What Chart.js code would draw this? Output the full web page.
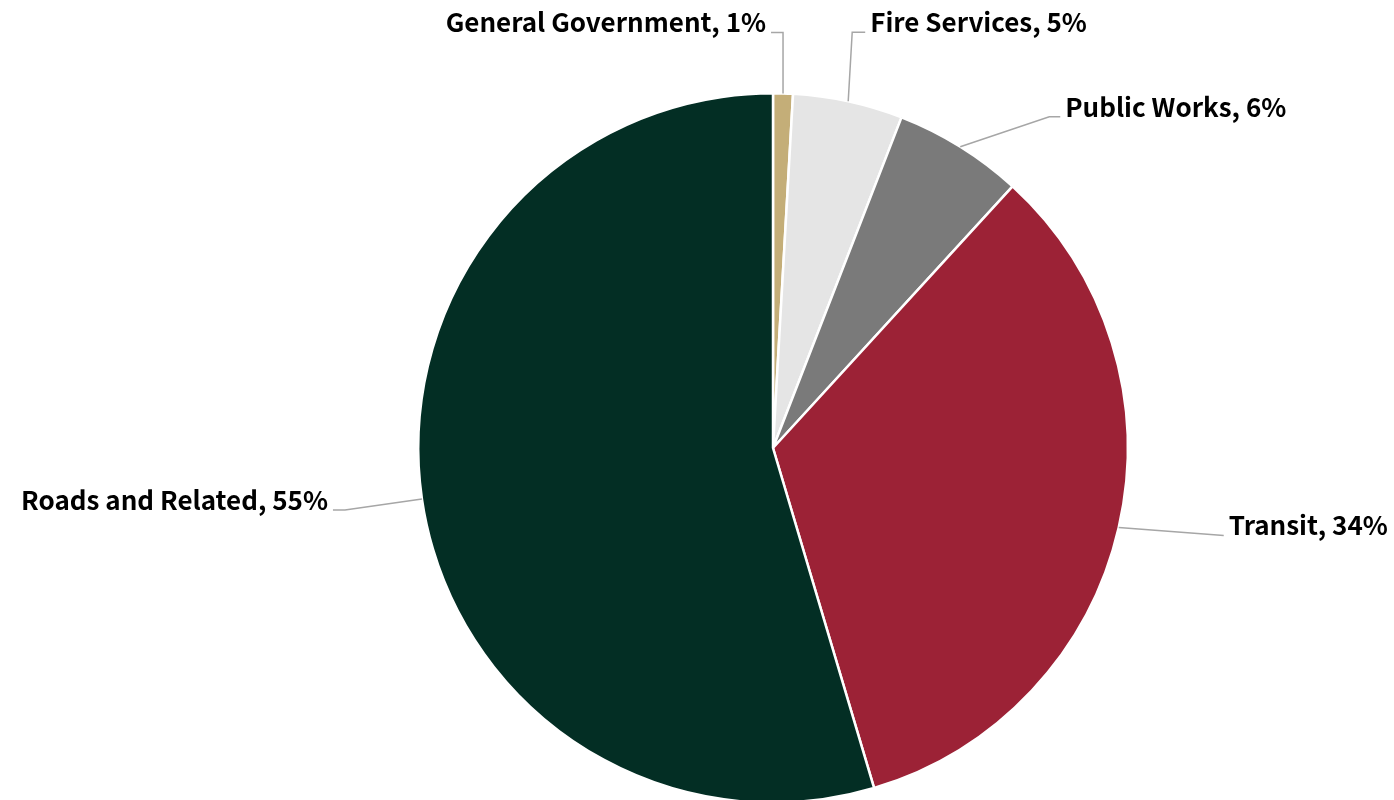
<!DOCTYPE html>
<html>
<head>
<meta charset="utf-8">
<script src="https://cdn.jsdelivr.net/npm/chart.js@4"></script>
<style>
html,body{margin:0;padding:0;background:#fff;overflow:hidden;width:1394px;height:800px;}
#wrap{width:1394px;height:820px;position:relative;}
</style>
</head>
<body>
<div id="wrap"><canvas id="c" width="1394" height="820"></canvas></div>
<script>
const categories = ["General Government", "Fire Services", "Public Works", "Transit", "Roads and Related"];
const shares = [0.9, 5.0, 5.9, 33.6, 54.6];
const colors = ["#C4AE78", "#E5E5E5", "#7A7A7A", "#9C2236", "#032E24"];

// leader line style per label: elbow offset from arc anchor, horizontal tail, text side
const leaderStyle = [
  {dx: 0, dy: -61, h: -12, align: "right"},
  {dx: 4, dy: -69, h: 13, align: "left"},
  {dx: 89, dy: -30, h: 11, align: "left"},
  {dx: 105, dy: 8, h: 0, align: "left"},
  {dx: -77, dy: 11, h: -12, align: "right"}
];

const labelPlugin = {
  id: "leaderLabels",
  afterDatasetsDraw(chart) {
    const ctx = chart.ctx;
    const meta = chart.getDatasetMeta(0);
    const data = chart.data.datasets[0].data;
    const total = data.reduce((a, b) => a + b, 0);
    ctx.save();
    meta.data.forEach((arc, i) => {
      const p = arc.getProps(["x", "y", "startAngle", "endAngle", "outerRadius"], true);
      const mid = (p.startAngle + p.endAngle) / 2;
      const ax = p.x + Math.cos(mid) * p.outerRadius;
      const ay = p.y + Math.sin(mid) * p.outerRadius;
      const s = leaderStyle[i];
      const ex = ax + s.dx, ey = ay + s.dy;
      const tx = ex + s.h;
      ctx.strokeStyle = "#A6A6A6";
      ctx.lineWidth = 1.5;
      ctx.beginPath();
      ctx.moveTo(ax, ay);
      ctx.lineTo(ex, ey);
      ctx.lineTo(tx, ey);
      ctx.stroke();
      const pct = Math.round(data[i] / total * 100);
      const text = chart.data.labels[i] + ", " + pct + "%";
      ctx.font = "bold 26px 'Noto Sans CJK JP', 'Noto Sans', sans-serif";
      ctx.fillStyle = "#000";
      ctx.textBaseline = "middle";
      ctx.textAlign = s.align;
      const gx = s.align === "left" ? tx + 5 : tx - 5;
      ctx.fillText(text, gx, ey - 10);
    });
    ctx.restore();
  }
};

new Chart(document.getElementById("c"), {
  type: "pie",
  data: {
    labels: categories,
    datasets: [{
      data: shares,
      backgroundColor: colors,
      borderColor: "#FFFFFF",
      borderWidth: 2.5
    }]
  },
  options: {
    responsive: false,
    animation: false,
    layout: {padding: {left: 417, right: 265, top: 92, bottom: 16}},
    plugins: {legend: {display: false}, tooltip: {enabled: false}}
  },
  plugins: [labelPlugin]
});
</script>
</body>
</html>
